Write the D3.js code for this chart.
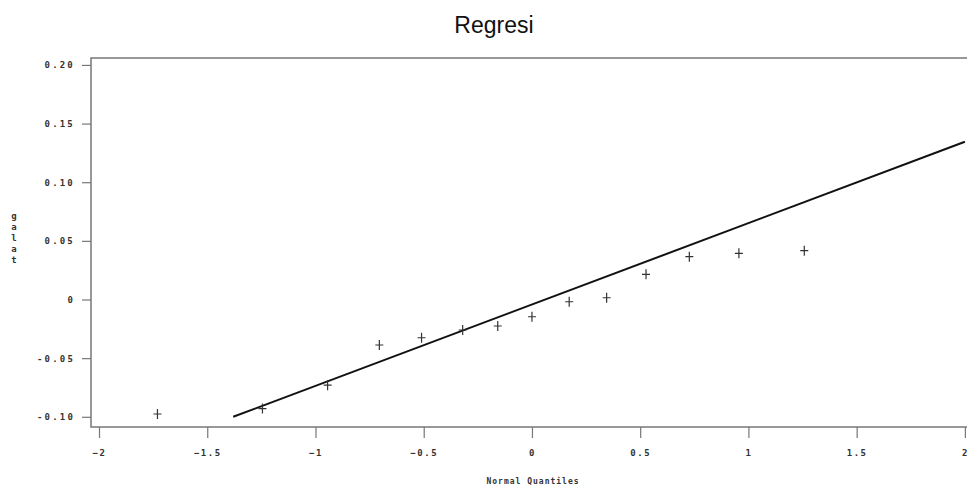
<!DOCTYPE html>
<html>
<head>
<meta charset="utf-8">
<script src="https://cdn.jsdelivr.net/npm/d3@7"></script>
<style>
  body { margin: 0; background: #fff; }
  .tick text { font-family: 'DejaVu Sans Mono', monospace; font-weight: bold; }
</style>
</head>
<body>
<div id="chart"></div>
<script>
// normal quantiles and residuals (galat) of the visible points
const quantiles = [-1.73, -1.245, -0.944, -0.705, -0.51, -0.32, -0.158, 0, 0.172, 0.345, 0.527, 0.727, 0.956, 1.258];
const galat = [-0.0976, -0.093, -0.073, -0.0388, -0.0326, -0.026, -0.0226, -0.0147, -0.0019, 0.0015, 0.0215, 0.0365, 0.0394, 0.0416];
// reference line end points [quantile, galat]
const refLine = [[-1.38, -0.10], [2.0, 0.1345]];
const xTicks = [-2, -1.5, -1, -0.5, 0, 0.5, 1, 1.5, 2];
const yTicks = [-0.10, -0.05, 0, 0.05, 0.10, 0.15, 0.20];
const yTickLabels = ['-0.10', '-0.05', '0', '0.05', '0.10', '0.15', '0.20'];

const width = 967, height = 488;
const plot = { left: 91, right: 990, top: 58, bottom: 427 };

const svg = d3.select('#chart')
  .append('svg')
  .attr('width', width)
  .attr('height', height);

const x = d3.scaleLinear()
  .domain([-2.037, 2.116])
  .range([plot.left, plot.right]);

const y = d3.scaleLinear()
  .domain([-0.1087, 0.2059])
  .range([plot.bottom, plot.top]);

// title
svg.append('text')
  .attr('x', 494)
  .attr('y', 33)
  .attr('text-anchor', 'middle')
  .attr('font-family', 'Liberation Sans, Arial, sans-serif')
  .attr('font-size', 23)
  .attr('fill', '#111')
  .text('Regresi');

// frame
svg.append('rect')
  .attr('x', plot.left)
  .attr('y', plot.top)
  .attr('width', plot.right - plot.left)
  .attr('height', plot.bottom - plot.top)
  .attr('fill', 'none')
  .attr('stroke', '#777')
  .attr('stroke-width', 1.5);

// y axis
const yAxis = svg.append('g')
  .attr('transform', `translate(${plot.left},0)`)
  .call(d3.axisLeft(y)
    .tickValues(yTicks)
    .tickSize(9)
    .tickPadding(7)
    .tickFormat((d, i) => yTickLabels[i]));
yAxis.select('.domain').remove();
yAxis.selectAll('.tick line').attr('stroke', '#777').attr('stroke-width', 1.2);
yAxis.selectAll('.tick text')
  .attr('font-size', 9)
  .attr('letter-spacing', 2.2)
  .attr('fill', '#333');

// x axis
const xAxis = svg.append('g')
  .attr('transform', `translate(0,${plot.bottom})`)
  .call(d3.axisBottom(x)
    .tickValues(xTicks)
    .tickSize(11)
    .tickPadding(12)
    .tickFormat(d => d3.format('')(d)));
xAxis.select('.domain').remove();
xAxis.selectAll('.tick line').attr('stroke', '#777').attr('stroke-width', 1.2);
xAxis.selectAll('.tick text')
  .attr('font-size', 9)
  .attr('letter-spacing', 1.5)
  .attr('fill', '#333');

// axis titles
svg.append('text')
  .attr('x', 533)
  .attr('y', 484)
  .attr('text-anchor', 'middle')
  .attr('font-family', 'DejaVu Sans Mono, monospace')
  .attr('font-weight', 'bold')
  .attr('font-size', 8)
  .attr('letter-spacing', 1)
  .attr('fill', '#333')
  .text('Normal Quantiles');

svg.append('g')
  .selectAll('text')
  .data('galat'.split(''))
  .enter()
  .append('text')
  .attr('x', 14)
  .attr('y', (d, i) => 219 + i * 11)
  .attr('text-anchor', 'middle')
  .attr('font-family', 'DejaVu Sans Mono, monospace')
  .attr('font-weight', 'bold')
  .attr('font-size', 9)
  .attr('fill', '#333')
  .text(d => d);

// reference line
svg.append('path')
  .datum(refLine)
  .attr('fill', 'none')
  .attr('stroke', '#111')
  .attr('stroke-width', 2)
  .attr('d', d3.line().x(d => x(d[0])).y(d => y(d[1])));

// points as plus signs
svg.append('g')
  .attr('stroke', '#333')
  .attr('stroke-width', 1.2)
  .selectAll('path')
  .data(quantiles.map((q, i) => [q, galat[i]]))
  .enter()
  .append('path')
  .attr('d', d => {
    const cx = x(d[0]), cy = y(d[1]);
    return `M${cx - 4},${cy}H${cx + 4}M${cx},${cy - 5}V${cy + 5}`;
  });
</script>
</body>
</html>
